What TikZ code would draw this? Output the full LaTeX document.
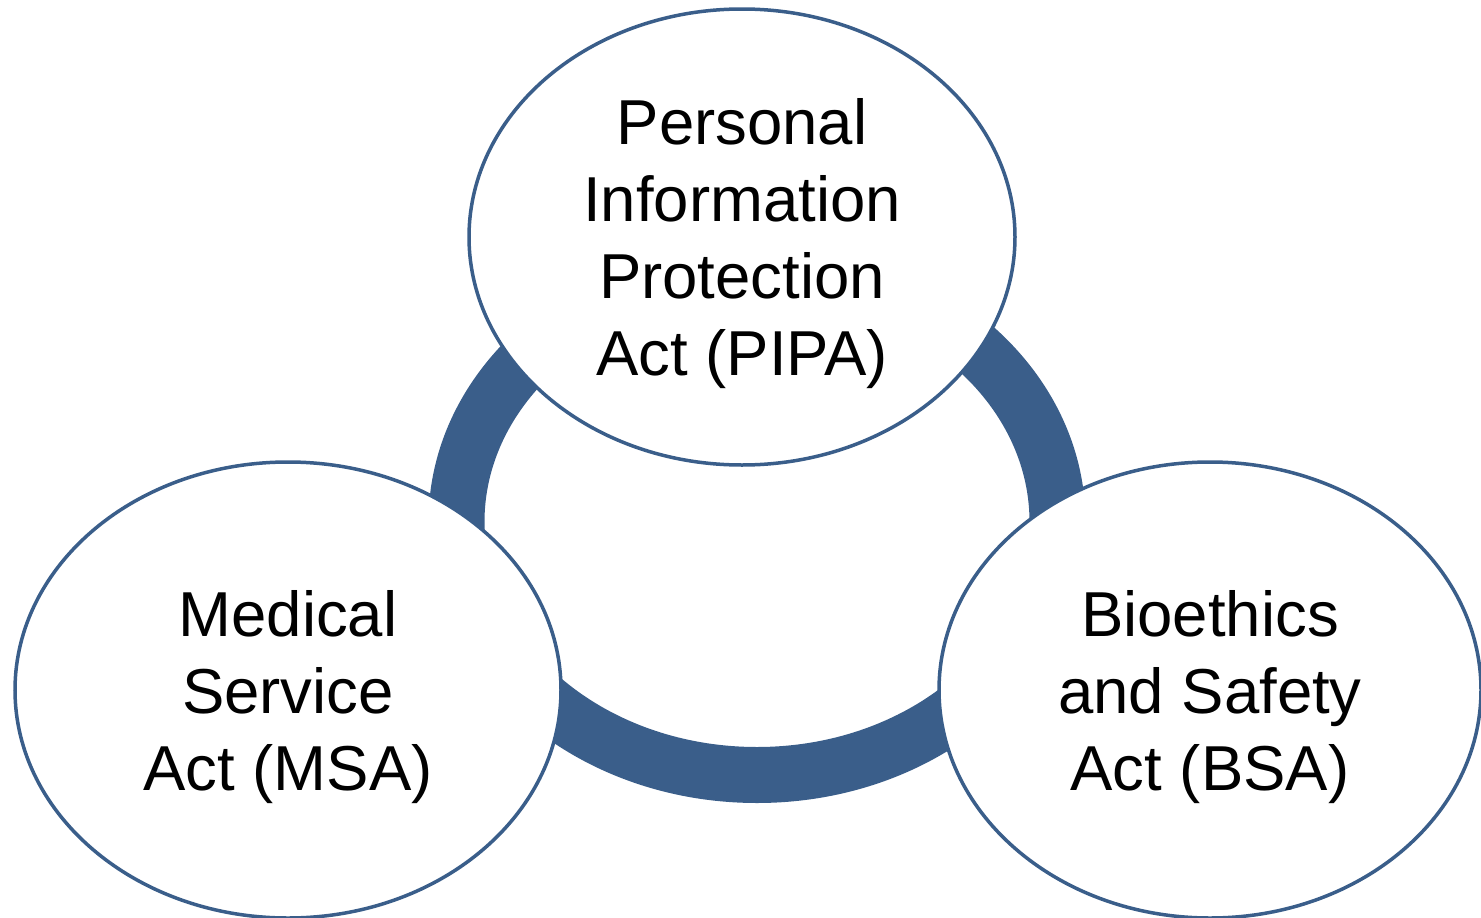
\documentclass[tikz,border=0pt]{standalone}
\usepackage{fontspec}
\setmainfont{Liberation Sans}
\usetikzlibrary{shapes.geometric}
\definecolor{ringblue}{HTML}{3A5E8A}
\tikzset{
  actbox/.style={ellipse, draw=ringblue, line width=3.5pt, fill=white,
    minimum width=546pt, minimum height=456pt, inner sep=0pt, align=center,
    text depth=0pt, font=\fontsize{63.5}{77}\selectfont},
}
\begin{document}
\begin{tikzpicture}[x=1pt,y=-1pt]
\useasboundingbox (0,0) rectangle (1481,918);
\coordinate (ringc) at (757,522);
\draw[ringblue, line width=56pt] (ringc) ellipse[x radius=300.5pt, y radius=253pt];
\node[actbox] (pipa) at (742,237) {Personal\\Information\\Protection\\Act (PIPA)};
\node[actbox] (msa) at (288,690) {Medical\\Service\\Act (MSA)};
\node[actbox, minimum width=542pt] (bsa) at (1210,690) {Bioethics\\and Safety\\Act (BSA)};
\end{tikzpicture}
\end{document}
